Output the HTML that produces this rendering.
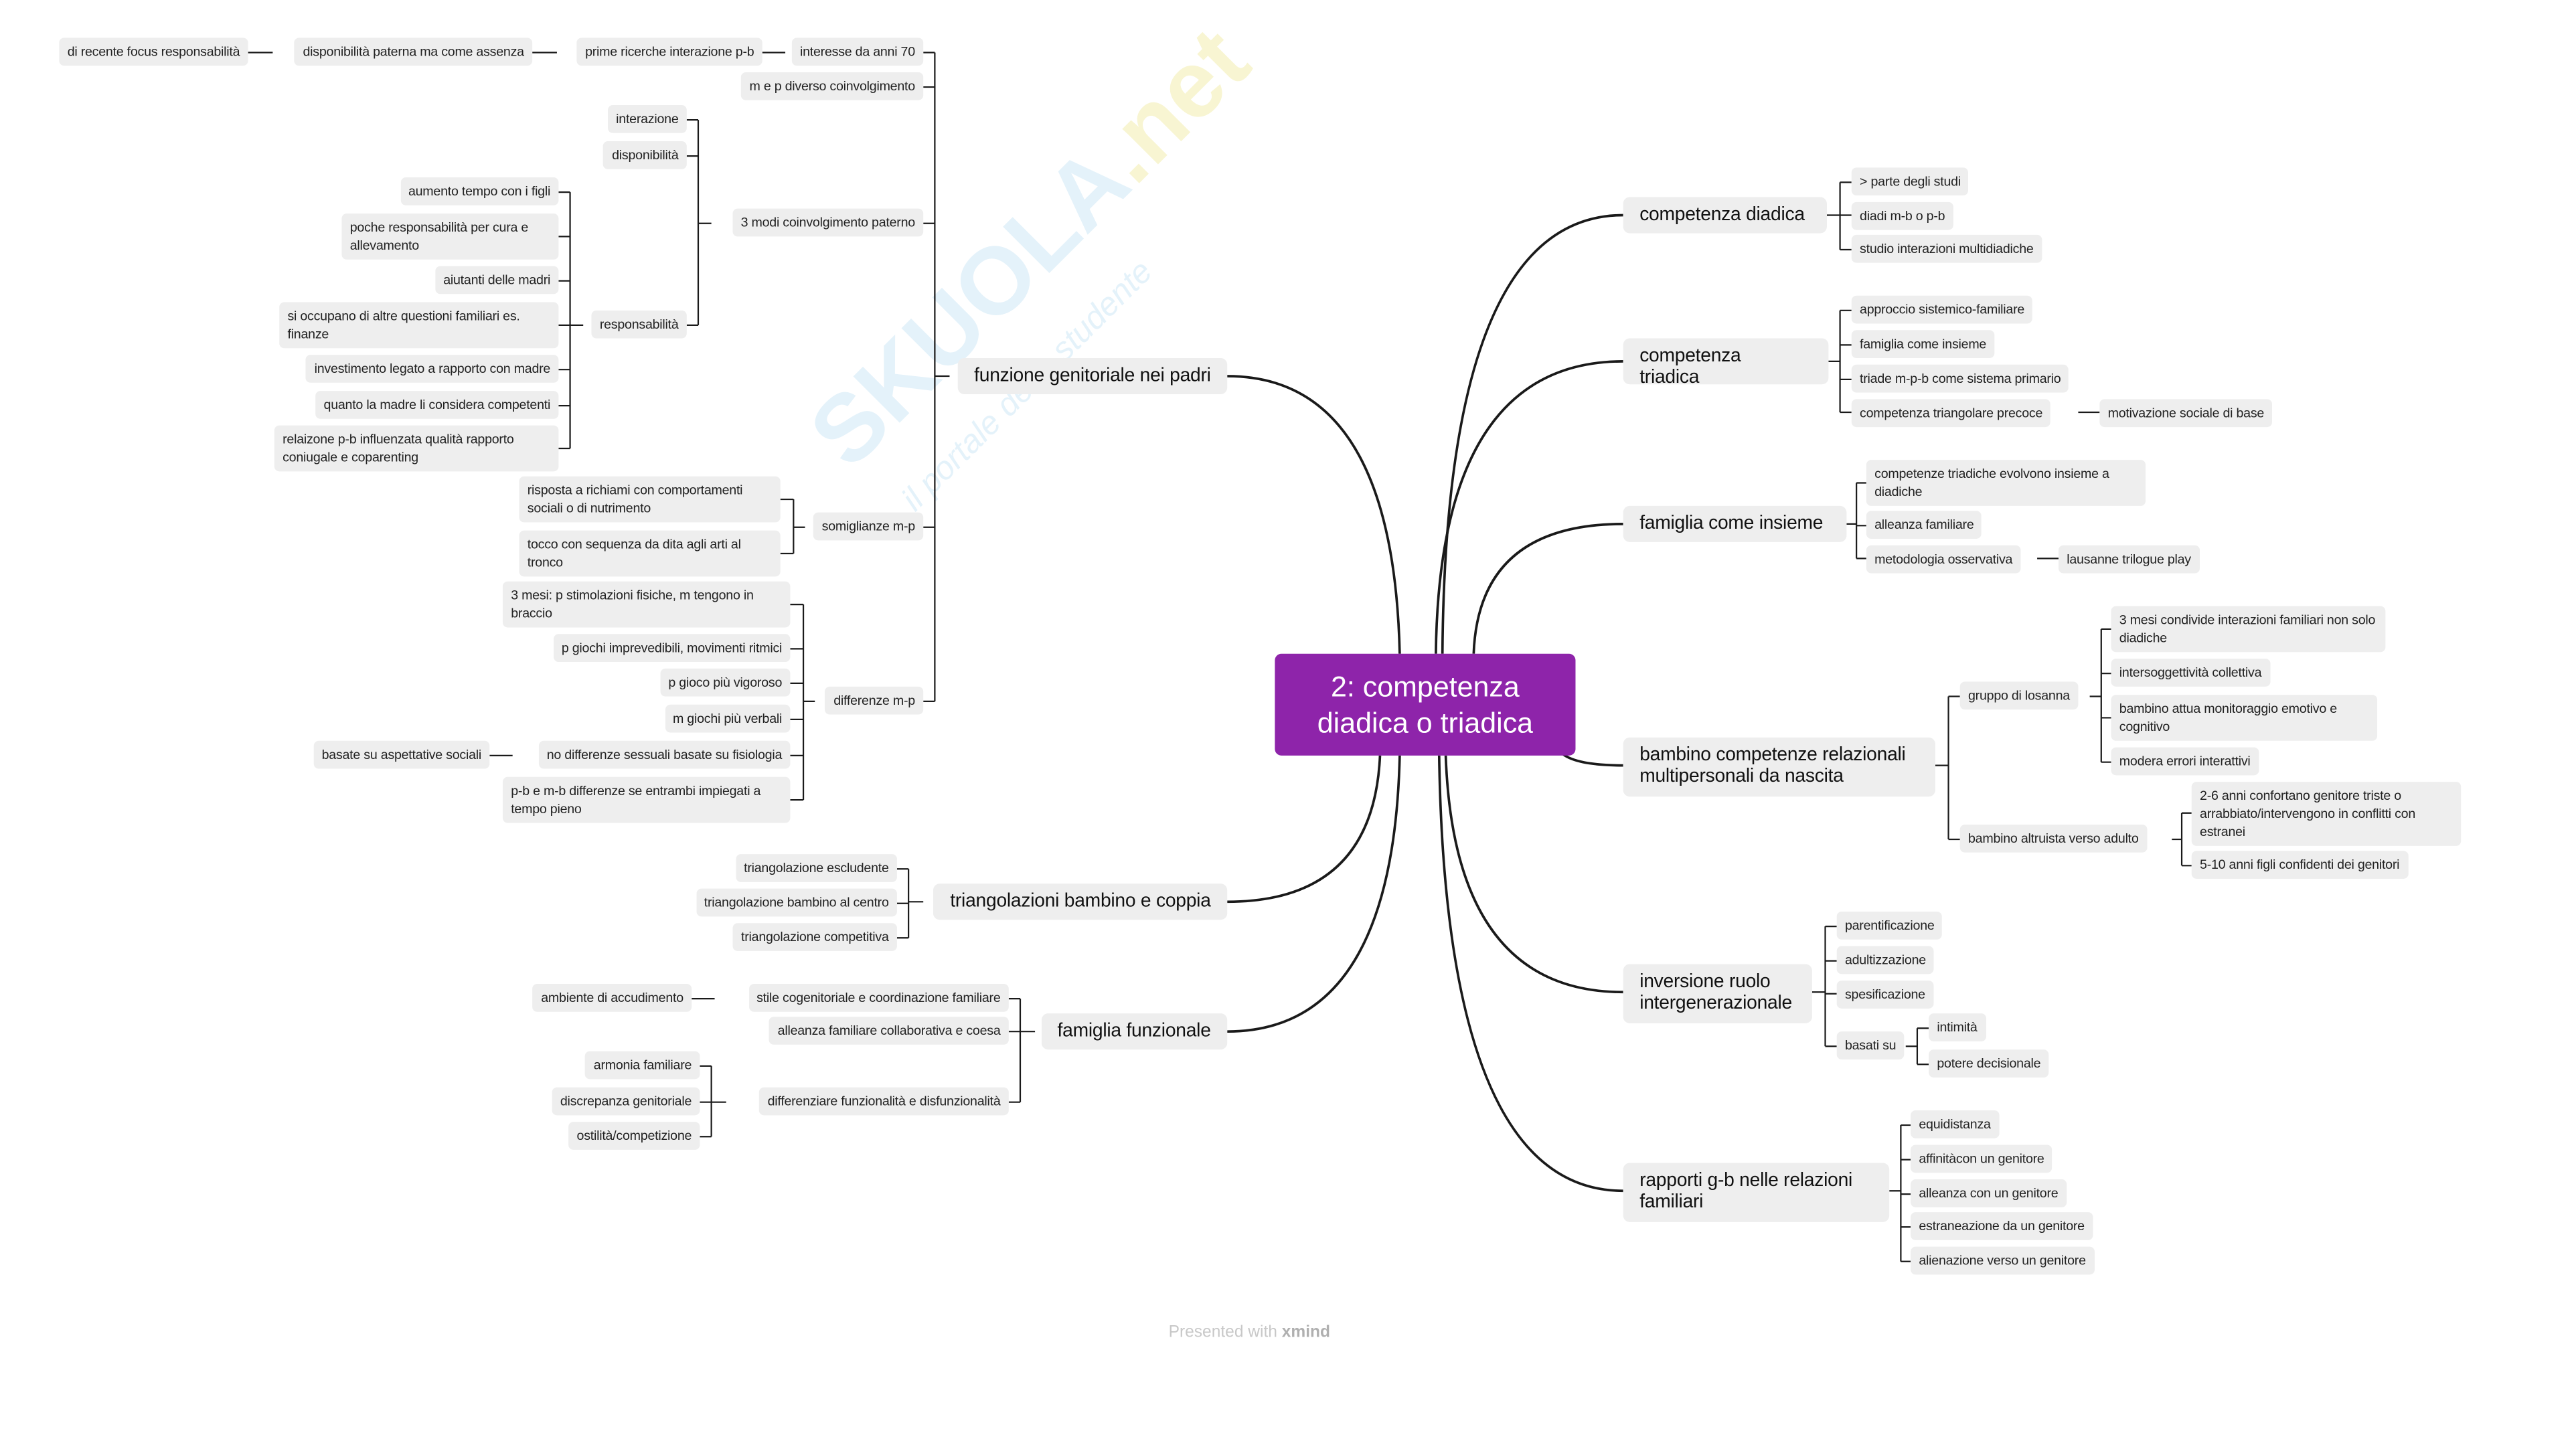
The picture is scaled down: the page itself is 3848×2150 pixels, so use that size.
<!DOCTYPE html>
<html><head><meta charset="utf-8"><style>
html,body{margin:0;padding:0;background:#fff;width:3848px;height:2149px;overflow:hidden}
#s{position:absolute;left:0;top:0;width:1545px;height:876px;transform:scale(2.4541);transform-origin:0 0;font-family:"Liberation Sans",sans-serif}
.n{position:absolute;background:#eeeeee;border-radius:3px;font-size:8px;letter-spacing:-0.1px;line-height:11px;padding:3px 5px;color:#222;white-space:nowrap;box-sizing:border-box;height:17px}
.m2{height:28px;white-space:normal}
.m3{height:39px;white-space:normal}
.b{position:absolute;background:#eeeeee;border-radius:4px;font-size:11.5px;line-height:13px;padding:5px 10px;color:#111;box-sizing:border-box;white-space:nowrap;letter-spacing:-0.1px}
.c{position:absolute;left:776px;top:398px;width:183px;height:62px;background:#8e24aa;border-radius:4px;color:#fff;font-size:17.5px;line-height:22px;text-align:center;padding-top:9px;box-sizing:border-box}
svg{position:absolute;left:0;top:0}
.wm{position:absolute;font-size:58px;font-weight:bold;color:#e4f2fa;transform:rotate(-45deg);transform-origin:0 0;white-space:nowrap}
</style></head><body><div id="s">
<div class="wm" style="left:480px;top:250px">SKUOLA<span style="color:#f8f5d2">.net</span></div>
<div class="wm" style="left:545px;top:300px;font-size:20px;font-weight:normal;font-style:italic">il portale dello studente</div>
<svg width="1545" height="876" fill="none" stroke="#1a1a1a">
<g stroke-width="1.5">
<path d="M878 398 Q880 131 988 131"/>
<path d="M874 398 Q876 220 988 220"/>
<path d="M897 398 Q900 319 988 319"/>
<path d="M950 458 Q958 466 988 466"/>
<path d="M880 460 Q885 604 988 604"/>
<path d="M876 460 Q880 725 988 725"/>
<path d="M852 398 Q848 229 747 229"/>
<path d="M840 460 Q836 549 747 549"/>
<path d="M852 460 Q848 628 747 628"/>
</g>
<g stroke-width="0.9">
<path d="M1112 131H1120M1120 111V152M1120 111H1127M1120 131H1127M1120 152H1127"/>
<path d="M1113 220H1120M1120 189V251M1120 189H1127M1120 210H1127M1120 231H1127M1120 251H1127M1265 251H1278"/>
<path d="M1124 319H1130M1130 294V340M1130 294H1136M1130 320H1136M1130 340H1136M1240 340H1253"/>
<path d="M1178 466H1186M1186 424V511M1186 424H1193M1186 511H1193"/>
<path d="M1272 424H1279M1279 383V464M1279 383H1285M1279 410H1285M1279 437H1285M1279 464H1285"/>
<path d="M1322 511H1328M1328 495V527M1328 495H1334M1328 527H1334"/>
<path d="M1103 604H1111M1111 564V637M1111 564H1118M1111 585H1118M1111 605H1118M1111 637H1118"/>
<path d="M1160 637H1167M1167 626V648M1167 626H1174M1167 648H1174"/>
<path d="M1150 725H1157M1157 685V768M1157 685H1163M1157 706H1163M1157 727H1163M1157 747H1163M1157 768H1163"/>
<path d="M578 229H569M569 32V427M569 32H562M569 53H562M569 136H562M569 321H562M569 427H562"/>
<path d="M478 32H464M339 32H324M166 32H151"/>
<path d="M433 136H425M425 73V198M425 73H418M425 95H418M425 198H418"/>
<path d="M355 198H347M347 117V273M347 117H340M347 144H340M347 171H340M347 198H340M347 225H340M347 247H340M347 273H340"/>
<path d="M490 321H483M483 304V337M483 304H475M483 337H475"/>
<path d="M496 427H489M489 368V487M489 368H481M489 395H481M489 416H481M489 438H481M489 460H481M489 487H481M312 460H298"/>
<path d="M562 549H553M553 529V571M553 529H546M553 550H546M553 571H546"/>
<path d="M630 628H621M621 608V671M621 608H614M621 628H614M621 671H614M435 608H421"/>
<path d="M442 671H433M433 649V692M433 649H426M433 671H426M433 692H426"/>
</g>
</svg>
<div class="c">2: competenza<br>diadica o triadica</div>

<div class="b" style="left:988px;top:120px;height:22px;width:124px">competenza diadica</div>
<div class="b" style="left:988px;top:206px;width:125px;height:28px">competenza<br>triadica</div>
<div class="b" style="left:988px;top:308px;height:22px;width:136px">famiglia come insieme</div>
<div class="b" style="left:988px;top:449px;height:36px;width:190px">bambino competenze relazionali<br>multipersonali da nascita</div>
<div class="b" style="left:988px;top:587px;height:36px;width:115px">inversione ruolo<br>intergenerazionale</div>
<div class="b" style="left:988px;top:708px;height:36px;width:162px">rapporti g-b nelle relazioni<br>familiari</div>
<div class="b" style="right:798px;top:218px;height:22px">funzione genitoriale nei padri</div>
<div class="b" style="right:798px;top:538px;height:22px">triangolazioni bambino e coppia</div>
<div class="b" style="right:798px;top:617px;height:22px">famiglia funzionale</div>

<div class="n" style="left:1127px;top:102px">&gt; parte degli studi</div>
<div class="n" style="left:1127px;top:123px">diadi m-b o p-b</div>
<div class="n" style="left:1127px;top:143px">studio interazioni multidiadiche</div>
<div class="n" style="left:1127px;top:180px">approccio sistemico-familiare</div>
<div class="n" style="left:1127px;top:201px">famiglia come insieme</div>
<div class="n" style="left:1127px;top:222px">triade m-p-b come sistema primario</div>
<div class="n" style="left:1127px;top:243px">competenza triangolare precoce</div>
<div class="n" style="left:1278px;top:243px">motivazione sociale di base</div>
<div class="n m2" style="left:1136px;top:280px;width:170px">competenze triadiche evolvono insieme a diadiche</div>
<div class="n" style="left:1136px;top:311px">alleanza familiare</div>
<div class="n" style="left:1136px;top:332px">metodologia osservativa</div>
<div class="n" style="left:1253px;top:332px">lausanne trilogue play</div>
<div class="n" style="left:1193px;top:415px">gruppo di losanna</div>
<div class="n m2" style="left:1285px;top:369px;width:167px">3 mesi condivide interazioni familiari non solo diadiche</div>
<div class="n" style="left:1285px;top:401px">intersoggettività collettiva</div>
<div class="n m2" style="left:1285px;top:423px;width:162px">bambino attua monitoraggio emotivo e cognitivo</div>
<div class="n" style="left:1285px;top:455px">modera errori interattivi</div>
<div class="n" style="left:1193px;top:502px">bambino altruista verso adulto</div>
<div class="n m3" style="left:1334px;top:476px;width:164px">2-6 anni confortano genitore triste o arrabbiato/intervengono in conflitti con estranei</div>
<div class="n" style="left:1334px;top:518px">5-10 anni figli confidenti dei genitori</div>
<div class="n" style="left:1118px;top:555px">parentificazione</div>
<div class="n" style="left:1118px;top:576px">adultizzazione</div>
<div class="n" style="left:1118px;top:597px">spesificazione</div>
<div class="n" style="left:1118px;top:628px">basati su</div>
<div class="n" style="left:1174px;top:617px">intimità</div>
<div class="n" style="left:1174px;top:639px">potere decisionale</div>
<div class="n" style="left:1163px;top:676px">equidistanza</div>
<div class="n" style="left:1163px;top:697px">affinitàcon un genitore</div>
<div class="n" style="left:1163px;top:718px">alleanza con un genitore</div>
<div class="n" style="left:1163px;top:738px">estraneazione da un genitore</div>
<div class="n" style="left:1163px;top:759px">alienazione verso un genitore</div>

<div class="n" style="right:983px;top:23px">interesse da anni 70</div>
<div class="n" style="right:1081px;top:23px">prime ricerche interazione p-b</div>
<div class="n" style="right:1221px;top:23px">disponibilità paterna ma come assenza</div>
<div class="n" style="right:1394px;top:23px">di recente focus responsabilità</div>
<div class="n" style="right:983px;top:44px">m e p diverso coinvolgimento</div>
<div class="n" style="right:983px;top:127px">3 modi coinvolgimento paterno</div>
<div class="n" style="right:1127px;top:64px">interazione</div>
<div class="n" style="right:1127px;top:86px">disponibilità</div>
<div class="n" style="right:1127px;top:189px">responsabilità</div>
<div class="n" style="right:1205px;top:108px">aumento tempo con i figli</div>
<div class="n m2" style="right:1205px;top:130px;width:132px">poche responsabilità per cura e allevamento</div>
<div class="n" style="right:1205px;top:162px">aiutanti delle madri</div>
<div class="n m2" style="right:1205px;top:184px;width:170px">si occupano di altre questioni familiari es. finanze</div>
<div class="n" style="right:1205px;top:216px">investimento legato a rapporto con madre</div>
<div class="n" style="right:1205px;top:238px">quanto la madre li considera competenti</div>
<div class="n m2" style="right:1205px;top:259px;width:173px">relaizone p-b influenzata qualità rapporto coniugale e coparenting</div>
<div class="n" style="right:983px;top:312px">somiglianze m-p</div>
<div class="n m2" style="right:1070px;top:290px;width:159px">risposta a richiami con comportamenti sociali o di nutrimento</div>
<div class="n m2" style="right:1070px;top:323px;width:159px">tocco con sequenza da dita agli arti al tronco</div>
<div class="n" style="right:983px;top:418px">differenze m-p</div>
<div class="n m2" style="right:1064px;top:354px;width:175px">3 mesi: p stimolazioni fisiche, m tengono in braccio</div>
<div class="n" style="right:1064px;top:386px">p giochi imprevedibili, movimenti ritmici</div>
<div class="n" style="right:1064px;top:407px">p gioco più vigoroso</div>
<div class="n" style="right:1064px;top:429px">m giochi più verbali</div>
<div class="n" style="right:1064px;top:451px">no differenze sessuali basate su fisiologia</div>
<div class="n" style="right:1247px;top:451px">basate su aspettative sociali</div>
<div class="n m2" style="right:1064px;top:473px;width:175px">p-b e m-b differenze se entrambi impiegati a tempo pieno</div>
<div class="n" style="right:999px;top:520px">triangolazione escludente</div>
<div class="n" style="right:999px;top:541px">triangolazione bambino al centro</div>
<div class="n" style="right:999px;top:562px">triangolazione competitiva</div>
<div class="n" style="right:931px;top:599px">stile cogenitoriale e coordinazione familiare</div>
<div class="n" style="right:1124px;top:599px">ambiente di accudimento</div>
<div class="n" style="right:931px;top:619px">alleanza familiare collaborativa e coesa</div>
<div class="n" style="right:931px;top:662px">differenziare funzionalità e disfunzionalità</div>
<div class="n" style="right:1119px;top:640px">armonia familiare</div>
<div class="n" style="right:1119px;top:662px">discrepanza genitoriale</div>
<div class="n" style="right:1119px;top:683px">ostilità/competizione</div>

<div style="position:absolute;left:0;width:1521px;top:806px;text-align:center;font-size:10px;color:#c8c8c8">Presented with <b style="color:#b0b0b0">xmind</b></div>
</div></body></html>
